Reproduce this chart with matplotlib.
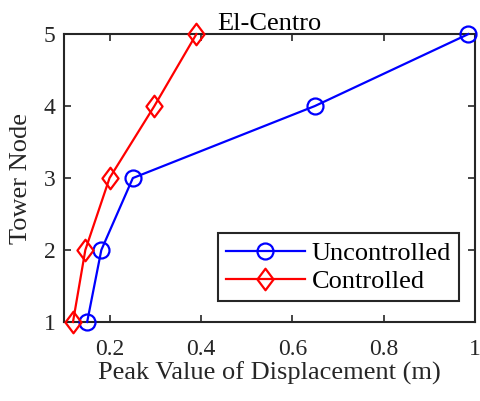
import matplotlib.pyplot as plt
from matplotlib.path import Path

plt.rcParams['font.family'] = ['Liberation Serif', 'DejaVu Serif']

# Peak tower displacement at each node, El-Centro record
nodes = [1, 2, 3, 4, 5]
uncontrolled = [0.151, 0.182, 0.251, 0.649, 0.985]
controlled = [0.120, 0.147, 0.200, 0.298, 0.390]

# slightly narrow diamond, like the default MATLAB one
diamond = Path([(0, 1), (0.75, 0), (0, -1), (-0.75, 0), (0, 1)],
               [Path.MOVETO, Path.LINETO, Path.LINETO, Path.LINETO, Path.CLOSEPOLY])

fig = plt.figure(figsize=(4.8, 4.01), dpi=100)
ax = fig.add_axes([0.133, 0.197, 0.857, 0.718])

ax.plot(uncontrolled, nodes, color='#0000ff', lw=1.6, marker='o', ms=11.5,
        mfc='none', mew=1.6, label='Uncontrolled', clip_on=False, zorder=3)
ax.plot(controlled, nodes, color='#ff0000', lw=1.6, marker=diamond, ms=15.5,
        mfc='none', mew=1.6, label='Controlled', clip_on=False, zorder=3)

ax.set_xlim(0.1, 1)
ax.set_ylim(1, 5)
ax.set_xticks([0.2, 0.4, 0.6, 0.8, 1])
ax.set_xticklabels(['0.2', '0.4', '0.6', '0.8', '1'])
ax.set_yticks(nodes)

ax.tick_params(direction='in', top=True, right=True, length=5, width=1.2,
               labelsize=17, color='#262626', labelcolor='#262626')
ax.tick_params(axis='x', pad=12)
ax.tick_params(axis='y', pad=6)
for s in ax.spines.values():
    s.set_linewidth(1.5)
    s.set_color('#262626')

ax.set_xlabel('Peak Value of Displacement (m)', fontsize=19, color='#262626', labelpad=1.5)
ax.set_ylabel('Tower Node', fontsize=19, color='#262626', labelpad=8.5)
ax.set_title('El-Centro', fontsize=19, color='#000000', pad=3)

leg = ax.legend(loc='lower right', bbox_to_anchor=(0.961, 0.073), borderaxespad=0,
                fontsize=19, fancybox=False, edgecolor='#262626', framealpha=1,
                handlelength=3.0, borderpad=0.3, labelspacing=0.18, handletextpad=0.27)
leg.get_frame().set_linewidth(1.5)

fig.savefig('out.png', dpi=100)
